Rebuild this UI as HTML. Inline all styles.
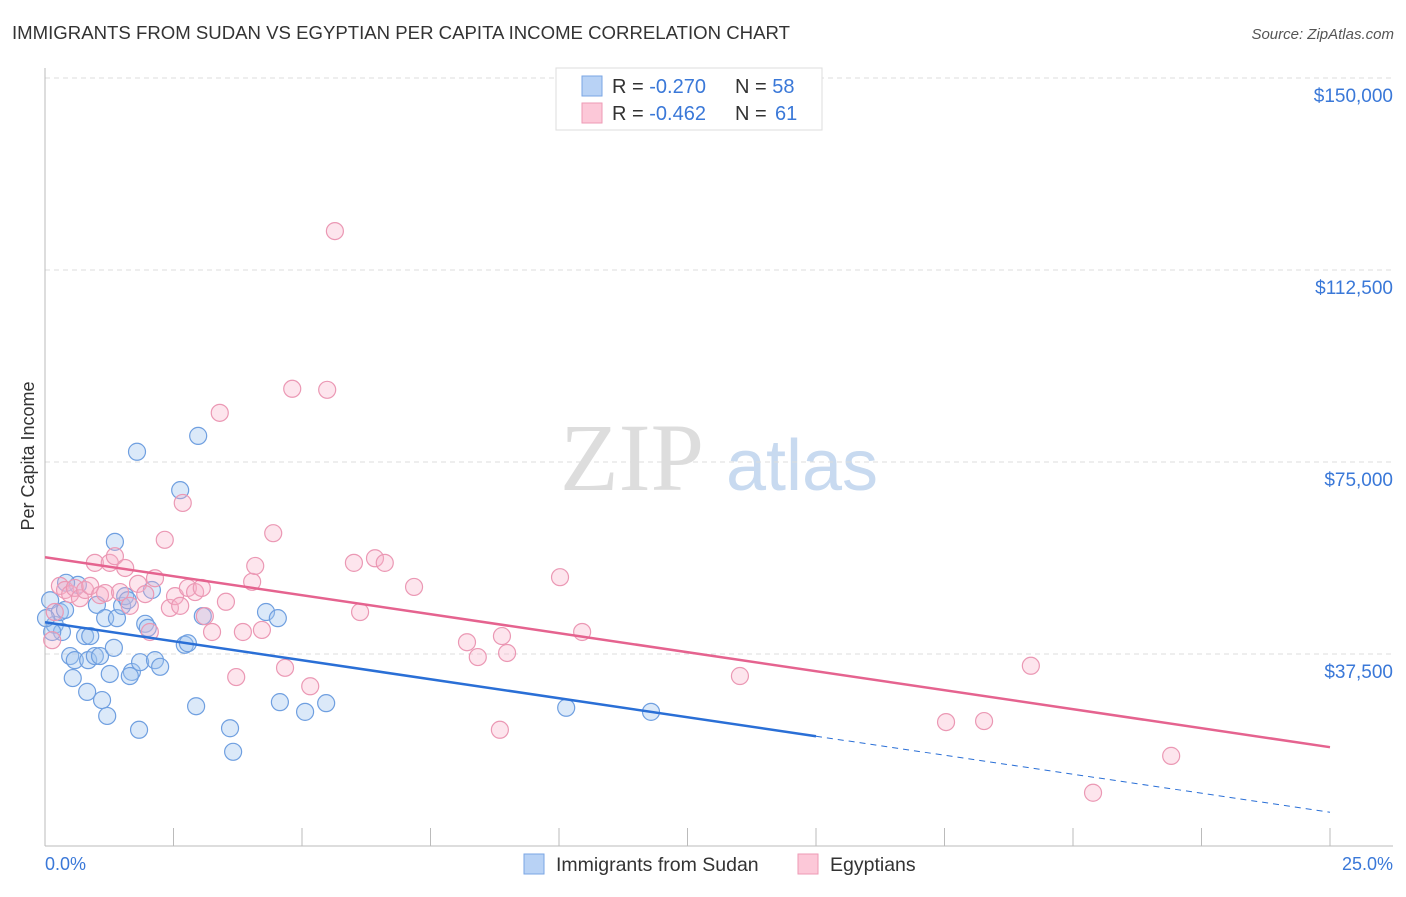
<!DOCTYPE html>
<html><head><meta charset="utf-8"><style>
body{margin:0;background:#fff;font-family:"Liberation Sans",sans-serif}
</style></head><body>
<svg width="1406" height="892" xmlns="http://www.w3.org/2000/svg" style="font-family:'Liberation Sans',sans-serif">
<text x="12" y="39" font-size="18.6" fill="#333">IMMIGRANTS FROM SUDAN VS EGYPTIAN PER CAPITA INCOME CORRELATION CHART</text>
<text x="1394" y="39" font-size="15" fill="#555" text-anchor="end" font-style="italic">Source: ZipAtlas.com</text>
<g><text x="632" y="490" font-size="96" fill="#ddd" font-family="Liberation Serif" text-anchor="middle">ZIP</text><text x="802" y="490" font-size="72" fill="#c8daf0" text-anchor="middle">atlas</text></g>
<g id="grid"></g><g id="axes"></g><g id="marks"></g>
<text transform="translate(34,456) rotate(-90)" font-size="18" fill="#333" text-anchor="middle">Per Capita Income</text>
<text x="45" y="870" font-size="18" fill="#3a78d8">0.0%</text>
<text x="1393" y="870" font-size="18" fill="#3a78d8" text-anchor="end">25.0%</text>
<g>
<rect x="556" y="68" width="266" height="62" fill="#fff" stroke="#ddd"/>
<rect x="582" y="76" width="20" height="20" fill="#b8d2f5" stroke="#7aa6e4"/>
<rect x="582" y="103" width="20" height="20" fill="#fcc8d8" stroke="#ee9ab5"/>
<text x="612" y="93" font-size="20" fill="#333">R = <tspan fill="#3a78d8">-0.270</tspan></text>
<text x="735" y="93" font-size="20" fill="#333">N = <tspan fill="#3a78d8">58</tspan></text>
<text x="612" y="120" font-size="20" fill="#333">R = <tspan fill="#3a78d8">-0.462</tspan></text>
<text x="735" y="120" font-size="20" fill="#333">N =</text>
<text x="775" y="120" font-size="20" fill="#3a78d8">61</text>
</g>
<g>
<rect x="524" y="854" width="20" height="20" fill="#b8d2f5" stroke="#7aa6e4"/>
<text x="556" y="871" font-size="19.5" fill="#333">Immigrants from Sudan</text>
<rect x="798" y="854" width="20" height="20" fill="#fcc8d8" stroke="#ee9ab5"/>
<text x="830" y="871" font-size="19.5" fill="#333">Egyptians</text>
</g>
</svg>
<script>
const yTicks=[37500,75000,112500,150000];
const yTickLabels=["$37,500","$75,000","$112,500","$150,000"];
const sudanX=[.10,.19,.29,.33,.39,.64,.14,.41,.49,.58,.54,.78,.84,.88,.97,1.01,1.07,.82,1.11,1.21,1.17,1.26,1.34,1.40,1.36,1.50,1.56,1.61,1.69,1.65,1.79,1.85,1.83,1.95,2.00,2.08,2.14,2.24,2.63,2.72,2.78,2.94,2.98,3.07,3.60,3.66,4.30,4.53,4.57,5.06,5.47,10.14,11.79,0.02];
const sudanY=[48000,43200,45700,41800,46100,51000,41800,51400,37100,36300,32800,41000,36300,41000,37100,47100,37100,30100,28500,25400,44500,33600,38700,44500,59400,46900,48800,48000,34000,33200,77000,35900,22700,43400,42600,50000,36300,35000,69500,39300,39600,27300,80100,44900,23000,18400,45700,44500,28100,26200,27900,27000,26200,44500];
const egX=[.19,.29,.39,.49,.58,.68,.78,.88,.97,1.07,1.17,1.26,1.36,1.46,1.56,1.65,1.81,1.95,2.04,2.14,2.33,2.43,2.53,2.63,2.68,2.78,2.92,3.05,3.11,3.25,3.40,3.52,3.72,3.85,4.03,4.09,4.22,4.44,4.67,4.81,5.16,5.49,5.64,6.01,6.13,6.42,6.61,7.18,8.21,8.42,8.89,8.99,8.85,10.02,10.45,13.52,17.53,18.27,19.18,20.39,21.91,.14];
const egY=[45700,50800,50000,49200,50400,48400,50000,50800,55300,49000,49400,55300,56600,49600,54300,46900,51200,49200,41800,52300,59800,46500,48800,46900,67000,50400,49600,50400,44900,41800,84600,47700,33000,41800,51600,54700,42200,61100,34800,89300,31200,89100,120100,55300,45700,56200,55300,50600,39800,36900,41000,37700,22700,52500,41800,33200,24200,24400,35200,10400,17600,40200];
const sudanTrend=[43700,6600];
const egTrend=[56400,19300];
const X0=45,X1=1330,Y0=846,PXPER=192/37500;
const sx=v=>X0+(v/25)*(X1-X0), sy=v=>Y0-v*PXPER;
const NS="http://www.w3.org/2000/svg";
function mk(tag,attrs,parent){const e=document.createElementNS(NS,tag);for(const k in attrs)e.setAttribute(k,attrs[k]);document.getElementById(parent).appendChild(e);return e;}
yTicks.forEach((t,i)=>{
 const l=mk('line',{x1:X0,x2:1393,y1:sy(t),y2:sy(t),stroke:'#ddd','stroke-dasharray':'5,4'},'grid');
 
 
 const tx=mk('text',{x:1393,y:sy(t)+24,'font-size':19,fill:'#3a78d8','text-anchor':'end'},'grid');
 tx.textContent=yTickLabels[i];
 
 
});
const ax=mk('line',{x1:X0,x2:X0,y1:68,y2:846,stroke:'#bbb'},'axes');


const bx=mk('line',{x1:X0,x2:1393,y1:846,y2:846,stroke:'#bbb'},'axes');


for(let i=0;i<=10;i++){const t=mk('line',{x1:sx(i*2.5),x2:sx(i*2.5),y1:828,y2:846,stroke:'#bbb'},'axes');
 
 }
function pts(xs,ys,fill,stroke,name){xs.forEach((x,i)=>{const c=mk('circle',{cx:sx(x),cy:sy(ys[i]),r:8.5,fill:fill,stroke:stroke,'stroke-width':1.2},'marks');
 
 });}
pts(sudanX,sudanY,'rgba(160,196,240,0.38)','#6f9fe0','sudan-point');
pts(egX,egY,'rgba(248,175,200,0.33)','#eb98b4','egyptian-point');
const bv=x=>sudanTrend[0]+(sudanTrend[1]-sudanTrend[0])*x/25;
const t1=mk('line',{x1:sx(0),y1:sy(bv(0)),x2:sx(15),y2:sy(bv(15)),stroke:'#2a6fd6','stroke-width':2.5},'marks');


const t2=mk('line',{x1:sx(15),y1:sy(bv(15)),x2:sx(25),y2:sy(bv(25)),stroke:'#2a6fd6','stroke-width':1,'stroke-dasharray':'6,5'},'marks');


const t3=mk('line',{x1:sx(0),y1:sy(egTrend[0]),x2:sx(25),y2:sy(egTrend[1]),stroke:'#e5638f','stroke-width':2.5},'marks');


</script>
</body></html>
